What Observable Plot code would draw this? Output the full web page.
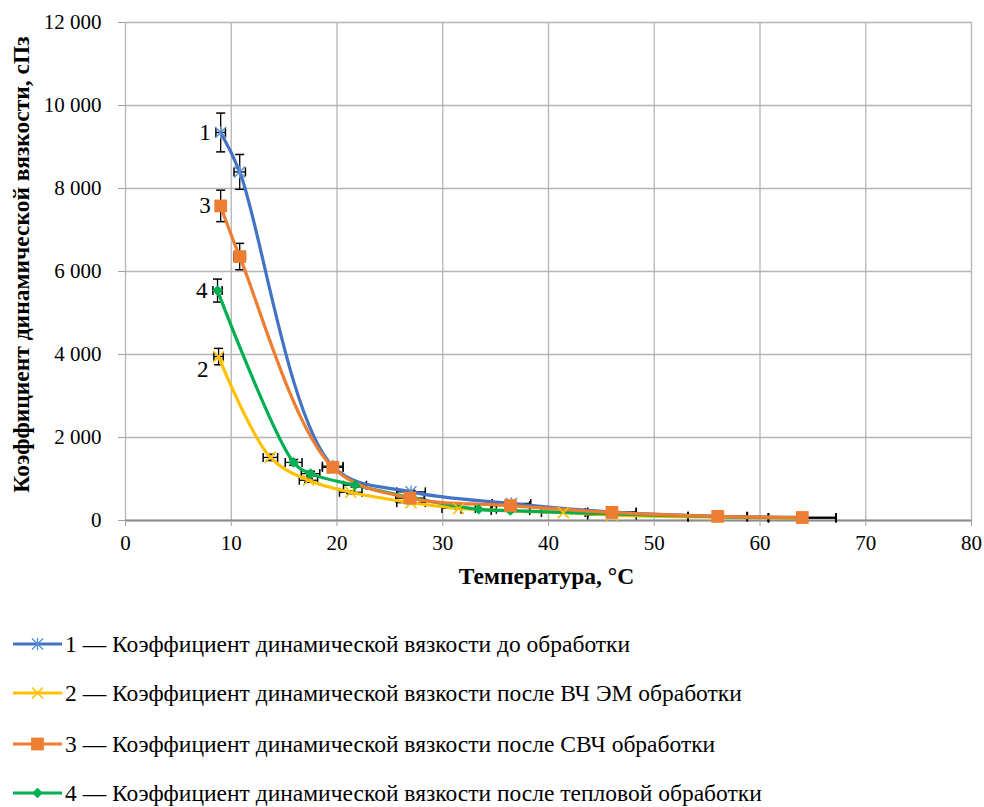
<!DOCTYPE html>
<html>
<head>
<meta charset="utf-8">
<script src="https://cdn.jsdelivr.net/npm/d3@7"></script>
<script src="https://cdn.jsdelivr.net/npm/@observablehq/plot@0.6"></script>
<style>
  html, body { margin: 0; padding: 0; background: #fff; }
  #wrap { position: relative; width: 984px; height: 807px; font-family: 'Liberation Serif', serif; overflow: hidden; }
  .leg { position: absolute; left: 13px; height: 28px; display: flex; align-items: center; font-size: 23.5px; color: #000; white-space: nowrap; font-family: 'Liberation Serif', serif; }
  .leg svg { display: block; margin-right: 2px; }
</style>
</head>
<body>
<div id="wrap"></div>
<script>
// ---- data ----
const xTicks = [0, 10, 20, 30, 40, 50, 60, 70, 80];
const yTicks = [0, 2000, 4000, 6000, 8000, 10000, 12000];

const names = [
  "1 — Коэффициент динамической вязкости до обработки",
  "2 — Коэффициент динамической вязкости после ВЧ ЭМ обработки",
  "3 — Коэффициент динамической вязкости после СВЧ обработки",
  "4 — Коэффициент динамической вязкости после тепловой обработки"
];
const curveLabels = ["1", "2", "3", "4"];

const temp1 = [9.0, 10.8, 19.6, 27.0, 36.5, 46.0, 56.0, 64.0];
const visc1 = [9350, 8400, 1310, 690, 410, 205, 102, 74];

const temp2 = [8.8, 13.7, 17.3, 21.3, 27.0, 31.5, 41.4, 46.0, 56.0, 64.0];
const visc2 = [3950, 1520, 970, 680, 430, 290, 190, 130, 80, 58];

const temp3 = [9.0, 10.8, 19.6, 26.9, 36.4, 46.0, 56.0, 64.0];
const visc3 = [7580, 6360, 1280, 540, 360, 195, 100, 72];

const temp4 = [8.7, 15.9, 17.5, 21.7, 33.4, 36.4, 46.0, 56.0, 64.0];
const visc4 = [5540, 1400, 1130, 850, 270, 240, 160, 90, 62];

const errorShare = 0.05; // error bars: ±5 % in both directions

// ---- styling ----
const colors = ["#4472C4", "#FFC000", "#ED7D31", "#00B050"];
const FONT = "Liberation Serif";

const starSym = { draw(ctx) { const r = 5.5; ctx.moveTo(-r, -r); ctx.lineTo(r, r); ctx.moveTo(-r, r); ctx.lineTo(r, -r); ctx.moveTo(0, -r * 1.15); ctx.lineTo(0, r * 1.15); } };
const timesSym = { draw(ctx) { const r = 5.5; ctx.moveTo(-r, -r); ctx.lineTo(r, r); ctx.moveTo(-r, r); ctx.lineTo(r, -r); } };
const capH = { draw(ctx) { ctx.moveTo(-4.5, 0); ctx.lineTo(4.5, 0); } };
const capV = { draw(ctx) { ctx.moveTo(0, -4.5); ctx.lineTo(0, 4.5); } };

const series = [
  { t: temp1, v: visc1 },
  { t: temp2, v: visc2 },
  { t: temp3, v: visc3 },
  { t: temp4, v: visc4 }
].map((s, k) => ({ k, color: colors[k], rows: s.t.map((x, i) => ({ x, y: s.v[i], k })) }));

const allRows = series.flatMap(s => s.rows);
const fmt = d3.formatLocale({ decimal: ",", thousands: "\u00a0", grouping: [3], currency: ["", ""] }).format(",");

const marks = [
  Plot.gridX(xTicks, { stroke: "#b4b4b4", strokeOpacity: 1, strokeWidth: 1.3 }),
  Plot.gridY(yTicks, { stroke: "#b4b4b4", strokeOpacity: 1, strokeWidth: 1.3 }),
  Plot.ruleY([0], { stroke: "#8c8c8c", strokeWidth: 1.8 }),
  Plot.axisX(xTicks, { tickSize: 6, tickPadding: 9, stroke: "#a0a0a0", label: null, tickFormat: d => String(d), fill: "black", fontFamily: FONT, fontSize: 21 }),
  Plot.axisY(yTicks, { tickSize: 7, tickPadding: 17, stroke: "#a0a0a0", label: null, tickFormat: fmt, fill: "black", fontFamily: FONT, fontSize: 21 }),
  // error bars
  Plot.link(allRows, { x1: d => d.x * (1 - errorShare), x2: d => d.x * (1 + errorShare), y1: "y", y2: "y", stroke: "black", strokeWidth: 1.3 }),
  Plot.link(allRows, { x1: "x", x2: "x", y1: d => d.y * (1 - errorShare), y2: d => d.y * (1 + errorShare), stroke: "black", strokeWidth: 1.3 }),
  Plot.dot(allRows, { x: d => d.x * (1 - errorShare), y: "y", symbol: capV, r: 3, stroke: "black", strokeWidth: 1.5, fill: "none" }),
  Plot.dot(allRows, { x: d => d.x * (1 + errorShare), y: "y", symbol: capV, r: 3, stroke: "black", strokeWidth: 1.5, fill: "none" }),
  Plot.dot(allRows, { x: "x", y: d => d.y * (1 - errorShare), symbol: capH, r: 3, stroke: "black", strokeWidth: 1.5, fill: "none" }),
  Plot.dot(allRows, { x: "x", y: d => d.y * (1 + errorShare), symbol: capH, r: 3, stroke: "black", strokeWidth: 1.5, fill: "none" }),
];

// lines (orange on top as in the reference)
const order = [1, 3, 0, 2];
for (const k of order) {
  const s = series[k];
  marks.push(Plot.line(s.rows, { x: "x", y: "y", stroke: s.color, strokeWidth: 3.2, curve: "catmull-rom" }));
}
for (const k of order) {
  const s = series[k];
  if (k === 0) marks.push(Plot.dot(s.rows, { x: "x", y: "y", symbol: starSym, r: 4, stroke: "#5b8fd9", strokeWidth: 1.4, fill: "none" }));
  if (k === 1) marks.push(Plot.dot(s.rows, { x: "x", y: "y", symbol: timesSym, r: 4, stroke: "#FFC000", strokeWidth: 1.6, fill: "none" }));
  if (k === 2) marks.push(Plot.dot(s.rows, { x: "x", y: "y", symbol: "square", r: 7.2, fill: "#ED7D31", stroke: "none" }));
  if (k === 3) marks.push(Plot.dot(s.rows, { x: "x", y: "y", symbol: "diamond2", r: 4.8, fill: "#00B050", stroke: "none" }));
}

// curve number labels at first points
const firstPts = series.map(s => ({ ...s.rows[0], label: curveLabels[s.k] }));
marks.push(Plot.text(firstPts.filter(d => d.k !== 1), { x: "x", y: "y", text: "label", textAnchor: "end", dx: -10, fontSize: 23, fill: "black", fontFamily: FONT }));
marks.push(Plot.text(firstPts.filter(d => d.k === 1), { x: "x", y: "y", text: "label", textAnchor: "end", dx: -10, dy: 13, fontSize: 23, fill: "black", fontFamily: FONT }));

// axis titles
marks.push(Plot.text(["Температура, °С"], { frameAnchor: "bottom", textAnchor: "middle", dx: -2, dy: 63, fontWeight: "bold", fontSize: 23.5, fill: "black", fontFamily: FONT }));
marks.push(Plot.text(["Коэффициент динамической вязкости, сПз"], { frameAnchor: "left", textAnchor: "middle", rotate: -90, dx: -104, dy: -7, fontWeight: "bold", fontSize: 23.5, fill: "black", fontFamily: FONT }));

const chart = Plot.plot({
  width: 984,
  height: 610,
  marginLeft: 125,
  marginRight: 13,
  marginTop: 22,
  marginBottom: 90,
  style: { fontFamily: FONT, fontSize: "21px", background: "white", color: "black", overflow: "visible" },
  x: { domain: [0, 80] },
  y: { domain: [0, 12000] },
  marks
});

const wrap = document.getElementById("wrap");
wrap.appendChild(chart);

// legend
const legendY = [644, 693, 744, 793];
const legSyms = [
  { type: starSym, fill: "none", stroke: "#5b8fd9", sw: 1.4 },
  { type: timesSym, fill: "none", stroke: "#FFC000", sw: 1.6 },
  { type: d3.symbolSquare, size: 163, fill: "#ED7D31", stroke: "none", sw: 0 },
  { type: d3.symbolDiamond2, size: 72, fill: "#00B050", stroke: "none", sw: 0 }
];
names.forEach((name, k) => {
  const row = document.createElement("div");
  row.className = "leg";
  row.style.top = (legendY[k] - 14) + "px";
  const svg = d3.create("svg").attr("width", 50).attr("height", 28);
  svg.append("line").attr("x1", 0).attr("x2", 49).attr("y1", 14).attr("y2", 14).attr("stroke", colors[k]).attr("stroke-width", 3.2);
  const s = legSyms[k];
  svg.append("path").attr("transform", "translate(24.5,14)")
    .attr("d", d3.symbol(s.type, s.size || 64)())
    .attr("fill", s.fill).attr("stroke", s.stroke).attr("stroke-width", s.sw);
  row.appendChild(svg.node());
  const span = document.createElement("span");
  span.textContent = name;
  row.appendChild(span);
  wrap.appendChild(row);
});
</script>
</body>
</html>
